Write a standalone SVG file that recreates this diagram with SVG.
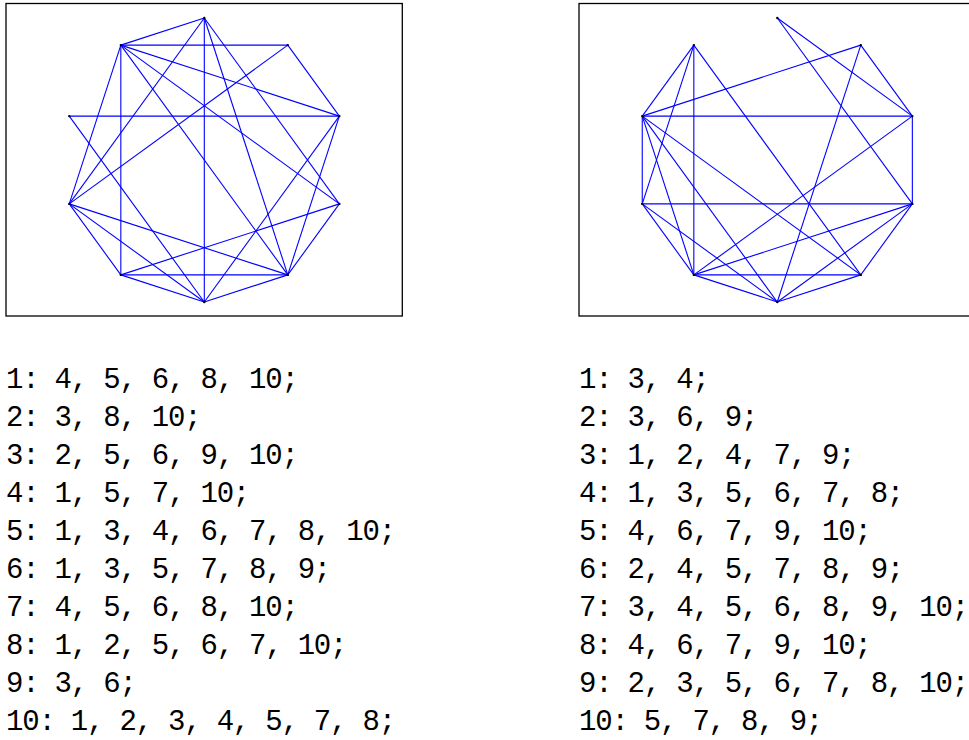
<svg xmlns="http://www.w3.org/2000/svg" width="969" height="740" viewBox="0 0 969 740">
<style>
.frame{fill:#fff;stroke:#000;stroke-width:1.3}
.edges line{stroke:#0000ff;stroke-width:1.1;fill:none}
.node circle{fill:#000}
.adj{font-family:"Liberation Mono","DejaVu Sans Mono",monospace;font-size:29px;letter-spacing:-1.2px;fill:#000}
</style>
<rect width="969" height="740" fill="#fff"/>
<rect class="frame" x="6" y="3.5" width="396.3" height="312.5"/>
<rect class="frame" x="579" y="3.5" width="396.3" height="312.5"/>

<g id="left-connectors" class="edges">
<line x1="204.3" y1="18" x2="339.35" y2="203.88"/>
<line x1="204.3" y1="18" x2="287.77" y2="274.88"/>
<line x1="204.3" y1="18" x2="204.3" y2="302"/>
<line x1="204.3" y1="18" x2="69.25" y2="203.88"/>
<line x1="204.3" y1="18" x2="120.83" y2="45.12"/>
<line x1="287.77" y1="45.12" x2="339.35" y2="116.12"/>
<line x1="287.77" y1="45.12" x2="69.25" y2="203.88"/>
<line x1="287.77" y1="45.12" x2="120.83" y2="45.12"/>
<line x1="339.35" y1="116.12" x2="287.77" y2="274.88"/>
<line x1="339.35" y1="116.12" x2="204.3" y2="302"/>
<line x1="339.35" y1="116.12" x2="69.25" y2="116.12"/>
<line x1="339.35" y1="116.12" x2="120.83" y2="45.12"/>
<line x1="339.35" y1="203.88" x2="287.77" y2="274.88"/>
<line x1="339.35" y1="203.88" x2="120.83" y2="274.88"/>
<line x1="339.35" y1="203.88" x2="120.83" y2="45.12"/>
<line x1="287.77" y1="274.88" x2="204.3" y2="302"/>
<line x1="287.77" y1="274.88" x2="120.83" y2="274.88"/>
<line x1="287.77" y1="274.88" x2="69.25" y2="203.88"/>
<line x1="287.77" y1="274.88" x2="120.83" y2="45.12"/>
<line x1="204.3" y1="302" x2="120.83" y2="274.88"/>
<line x1="204.3" y1="302" x2="69.25" y2="203.88"/>
<line x1="204.3" y1="302" x2="69.25" y2="116.12"/>
<line x1="120.83" y1="274.88" x2="69.25" y2="203.88"/>
<line x1="120.83" y1="274.88" x2="120.83" y2="45.12"/>
<line x1="69.25" y1="203.88" x2="120.83" y2="45.12"/>
</g>

<g id="right-connectors" class="edges">
<line x1="777.3" y1="18" x2="912.35" y2="116.12"/>
<line x1="777.3" y1="18" x2="912.35" y2="203.88"/>
<line x1="860.77" y1="45.12" x2="912.35" y2="116.12"/>
<line x1="860.77" y1="45.12" x2="777.3" y2="302"/>
<line x1="860.77" y1="45.12" x2="642.25" y2="116.12"/>
<line x1="912.35" y1="116.12" x2="912.35" y2="203.88"/>
<line x1="912.35" y1="116.12" x2="693.83" y2="274.88"/>
<line x1="912.35" y1="116.12" x2="642.25" y2="116.12"/>
<line x1="912.35" y1="203.88" x2="860.77" y2="274.88"/>
<line x1="912.35" y1="203.88" x2="777.3" y2="302"/>
<line x1="912.35" y1="203.88" x2="693.83" y2="274.88"/>
<line x1="912.35" y1="203.88" x2="642.25" y2="203.88"/>
<line x1="860.77" y1="274.88" x2="777.3" y2="302"/>
<line x1="860.77" y1="274.88" x2="693.83" y2="274.88"/>
<line x1="860.77" y1="274.88" x2="642.25" y2="116.12"/>
<line x1="860.77" y1="274.88" x2="693.83" y2="45.12"/>
<line x1="777.3" y1="302" x2="693.83" y2="274.88"/>
<line x1="777.3" y1="302" x2="642.25" y2="203.88"/>
<line x1="777.3" y1="302" x2="642.25" y2="116.12"/>
<line x1="693.83" y1="274.88" x2="642.25" y2="203.88"/>
<line x1="693.83" y1="274.88" x2="642.25" y2="116.12"/>
<line x1="693.83" y1="274.88" x2="693.83" y2="45.12"/>
<line x1="642.25" y1="203.88" x2="642.25" y2="116.12"/>
<line x1="642.25" y1="203.88" x2="693.83" y2="45.12"/>
<line x1="642.25" y1="116.12" x2="693.83" y2="45.12"/>
</g>

<g id="L1" class="node"><circle cx="204.3" cy="18" r="1.2"/></g>
<g id="L2" class="node"><circle cx="287.77" cy="45.12" r="1.2"/></g>
<g id="L3" class="node"><circle cx="339.35" cy="116.12" r="1.2"/></g>
<g id="L4" class="node"><circle cx="339.35" cy="203.88" r="1.2"/></g>
<g id="L5" class="node"><circle cx="287.77" cy="274.88" r="1.2"/></g>
<g id="L6" class="node"><circle cx="204.3" cy="302" r="1.2"/></g>
<g id="L7" class="node"><circle cx="120.83" cy="274.88" r="1.2"/></g>
<g id="L8" class="node"><circle cx="69.25" cy="203.88" r="1.2"/></g>
<g id="L9" class="node"><circle cx="69.25" cy="116.12" r="1.2"/></g>
<g id="L10" class="node"><circle cx="120.83" cy="45.12" r="1.2"/></g>

<g id="R1" class="node"><circle cx="777.3" cy="18" r="1.2"/></g>
<g id="R2" class="node"><circle cx="860.77" cy="45.12" r="1.2"/></g>
<g id="R3" class="node"><circle cx="912.35" cy="116.12" r="1.2"/></g>
<g id="R4" class="node"><circle cx="912.35" cy="203.88" r="1.2"/></g>
<g id="R5" class="node"><circle cx="860.77" cy="274.88" r="1.2"/></g>
<g id="R6" class="node"><circle cx="777.3" cy="302" r="1.2"/></g>
<g id="R7" class="node"><circle cx="693.83" cy="274.88" r="1.2"/></g>
<g id="R8" class="node"><circle cx="642.25" cy="203.88" r="1.2"/></g>
<g id="R9" class="node"><circle cx="642.25" cy="116.12" r="1.2"/></g>
<g id="R10" class="node"><circle cx="693.83" cy="45.12" r="1.2"/></g>

<g id="left-list" class="adj">
<text x="6" y="388">1: 4, 5, 6, 8, 10;</text>
<text x="6" y="426">2: 3, 8, 10;</text>
<text x="6" y="464">3: 2, 5, 6, 9, 10;</text>
<text x="6" y="502">4: 1, 5, 7, 10;</text>
<text x="6" y="540">5: 1, 3, 4, 6, 7, 8, 10;</text>
<text x="6" y="578">6: 1, 3, 5, 7, 8, 9;</text>
<text x="6" y="616">7: 4, 5, 6, 8, 10;</text>
<text x="6" y="654">8: 1, 2, 5, 6, 7, 10;</text>
<text x="6" y="692">9: 3, 6;</text>
<text x="6" y="730">10: 1, 2, 3, 4, 5, 7, 8;</text>
</g>
<g id="right-list" class="adj">
<text x="579" y="388">1: 3, 4;</text>
<text x="579" y="426">2: 3, 6, 9;</text>
<text x="579" y="464">3: 1, 2, 4, 7, 9;</text>
<text x="579" y="502">4: 1, 3, 5, 6, 7, 8;</text>
<text x="579" y="540">5: 4, 6, 7, 9, 10;</text>
<text x="579" y="578">6: 2, 4, 5, 7, 8, 9;</text>
<text x="579" y="616">7: 3, 4, 5, 6, 8, 9, 10;</text>
<text x="579" y="654">8: 4, 6, 7, 9, 10;</text>
<text x="579" y="692">9: 2, 3, 5, 6, 7, 8, 10;</text>
<text x="579" y="730">10: 5, 7, 8, 9;</text>
</g>
</svg>
